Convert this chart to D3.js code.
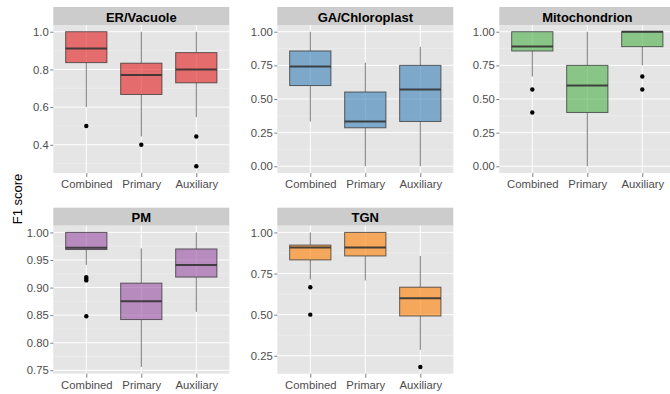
<!DOCTYPE html>
<html>
<head>
<meta charset="utf-8">
<script src="https://cdn.jsdelivr.net/npm/d3@7"></script>
<style>
  body { margin: 0; background: #fff; }
  svg { display: block; font-family: 'Liberation Sans', Arial, sans-serif; }
</style>
</head>
<body>
<script>
// Facets and groups
const compartments = ['ER/Vacuole', 'GA/Chloroplast', 'Mitochondrion', 'PM', 'TGN']
const methods = ['Combined', 'Primary', 'Auxiliary']

// Box stats per method: [lower whisker, q1, median, q3, upper whisker]
const erVacuole = [[0.60, 0.836, 0.911, 1.0, 1.0], [0.444, 0.667, 0.77, 0.833, 1.0], [0.547, 0.729, 0.80, 0.889, 1.0]]
const gaChloroplast = [[0.333, 0.60, 0.741, 0.857, 1.0], [0.0, 0.286, 0.333, 0.552, 0.77], [0.0, 0.333, 0.571, 0.75, 0.887]]
const mitochondrion = [[0.667, 0.857, 0.89, 1.0, 1.0], [0.0, 0.40, 0.60, 0.75, 1.0], [0.75, 0.889, 1.0, 1.0, 1.0]]
const pm = [[0.941, 0.969, 0.972, 1.0, 1.0], [0.756, 0.842, 0.875, 0.908, 0.971], [0.856, 0.919, 0.941, 0.970, 1.0]]
const tgn = [[0.714, 0.833, 0.909, 0.923, 1.0], [0.708, 0.857, 0.909, 1.0, 1.0], [0.286, 0.492, 0.60, 0.667, 0.857]]

// Outliers per method
const erVacuoleOut = [[0.5], [0.4], [0.444, 0.286]]
const gaChloroplastOut = [[], [], []]
const mitochondrionOut = [[0.571, 0.4], [], [0.667, 0.571]]
const pmOut = [[0.919, 0.916, 0.913, 0.848], [], []]
const tgnOut = [[0.667, 0.5], [], [0.182]]

// Y tick labels per facet
const erTicks = [0.4, 0.6, 0.8, 1.0]
const gaTicks = [0.0, 0.25, 0.5, 0.75, 1.0]
const mitoTicks = [0.0, 0.25, 0.5, 0.75, 1.0]
const pmTicks = [0.75, 0.80, 0.85, 0.90, 0.95, 1.00]
const tgnTicks = [0.25, 0.5, 0.75, 1.0]

const stats = [erVacuole, gaChloroplast, mitochondrion, pm, tgn]
const outliers = [erVacuoleOut, gaChloroplastOut, mitochondrionOut, pmOut, tgnOut]
const ticks = [erTicks, gaTicks, mitoTicks, pmTicks, tgnTicks]
const tickFormats = ['.1f', '.2f', '.2f', '.2f', '.2f']

// Chart settings
const width = 670
const height = 394
const colLeft = [53.3, 277.3, 499.3]
const rowTop = [7, 207.7]
const stripHeight = 18
const panelWidth = 176
const panelHeight = 148

// Colors
const fills = ['#E41A1C', '#377EB8', '#4DAF4A', '#984EA3', '#FF7F00']
const panelBg = '#E5E5E5'
const stripBg = '#CCCCCC'
const tickColor = '#4D4D4D'

const svg = d3.select('body')
  .append('svg')
  .attr('width', width)
  .attr('height', height)

// Y axis title
svg.append('text')
  .attr('transform', 'translate(22, 199) rotate(-90)')
  .attr('text-anchor', 'middle')
  .style('font-size', '13px')
  .text('F1 score')

compartments.forEach((name, i) => {
  const col = i % 3
  const row = Math.floor(i / 3)
  const g = svg.append('g')
    .attr('transform', `translate(${colLeft[col]}, ${rowTop[row]})`)

  // Strip
  g.append('rect')
    .attr('width', panelWidth)
    .attr('height', stripHeight)
    .attr('fill', stripBg)
  g.append('text')
    .attr('x', panelWidth / 2)
    .attr('y', 14.7)
    .attr('text-anchor', 'middle')
    .style('font-size', '13px')
    .style('font-weight', 'bold')
    .text(name)

  const p = g.append('g')
    .attr('transform', `translate(0, ${stripHeight})`)

  // Scales (ggplot-like 5% expansion)
  const values = stats[i].flat().concat(outliers[i].flat())
  const lo = d3.min(values)
  const hi = d3.max(values)
  const pad = (hi - lo) * 0.05
  const y = d3.scaleLinear()
    .domain([lo - pad, hi + pad])
    .range([panelHeight, 0])
  const x = d3.scalePoint()
    .domain(methods)
    .range([0, panelWidth])
    .padding(0.6)
  const boxWidth = x.step() * 0.75

  // Panel background
  p.append('rect')
    .attr('width', panelWidth)
    .attr('height', panelHeight)
    .attr('fill', panelBg)

  // Minor grid
  const t = ticks[i]
  const step = t[1] - t[0]
  const minor = [t[0] - step / 2].concat(t.map(d => d + step / 2))
    .filter(d => d >= y.domain()[0] && d <= y.domain()[1])
  p.selectAll('.minor')
    .data(minor)
    .enter()
    .append('line')
    .attr('x1', 0)
    .attr('x2', panelWidth)
    .attr('y1', d => y(d))
    .attr('y2', d => y(d))
    .attr('stroke', '#F2F2F2')
    .attr('stroke-width', 0.5)

  // Major grid
  p.selectAll('.major')
    .data(t)
    .enter()
    .append('line')
    .attr('x1', 0)
    .attr('x2', panelWidth)
    .attr('y1', d => y(d))
    .attr('y2', d => y(d))
    .attr('stroke', '#fff')
    .attr('stroke-width', 1)
  p.selectAll('.vmajor')
    .data(methods)
    .enter()
    .append('line')
    .attr('x1', d => x(d))
    .attr('x2', d => x(d))
    .attr('y1', 0)
    .attr('y2', panelHeight)
    .attr('stroke', '#fff')
    .attr('stroke-width', 1)

  // Boxes
  const boxes = p.selectAll('.box')
    .data(stats[i])
    .enter()
    .append('g')
    .attr('transform', (d, j) => `translate(${x(methods[j])}, 0)`)

  boxes.append('line')
    .attr('y1', d => y(d[3]))
    .attr('y2', d => y(d[4]))
    .attr('stroke', '#333')
    .attr('stroke-opacity', 0.65)
  boxes.append('line')
    .attr('y1', d => y(d[1]))
    .attr('y2', d => y(d[0]))
    .attr('stroke', '#333')
    .attr('stroke-opacity', 0.65)
  boxes.append('rect')
    .attr('x', -boxWidth / 2)
    .attr('width', boxWidth)
    .attr('y', d => y(d[3]))
    .attr('height', d => y(d[1]) - y(d[3]))
    .attr('fill', fills[i])
    .attr('fill-opacity', 0.6)
    .attr('stroke', '#333')
    .attr('stroke-opacity', 0.75)
  boxes.append('line')
    .attr('x1', -boxWidth / 2)
    .attr('x2', boxWidth / 2)
    .attr('y1', d => y(d[2]))
    .attr('y2', d => y(d[2]))
    .attr('stroke', '#333')
    .attr('stroke-width', 2)
    .attr('stroke-opacity', 0.9)

  // Outliers
  outliers[i].forEach((pts, j) => {
    p.selectAll(null)
      .data(pts)
      .enter()
      .append('circle')
      .attr('cx', x(methods[j]))
      .attr('cy', d => y(d))
      .attr('r', 2.2)
      .attr('fill', '#000')
  })

  // Axes
  const yAxis = p.append('g')
    .call(d3.axisLeft(y).tickValues(t).tickFormat(d3.format(tickFormats[i])).tickSize(3).tickPadding(1.5))
  const xAxis = p.append('g')
    .attr('transform', `translate(0, ${panelHeight})`)
    .call(d3.axisBottom(x).tickSize(4).tickPadding(3))
  ;[xAxis, yAxis].forEach(a => {
    a.select('.domain').remove()
    a.selectAll('line').attr('stroke', '#7F7F7F')
    a.selectAll('text')
      .attr('fill', tickColor)
      .style('font-size', '11.3px')
      .style('font-family', "'Liberation Sans', Arial, sans-serif")
  })
})
</script>
</body>
</html>
